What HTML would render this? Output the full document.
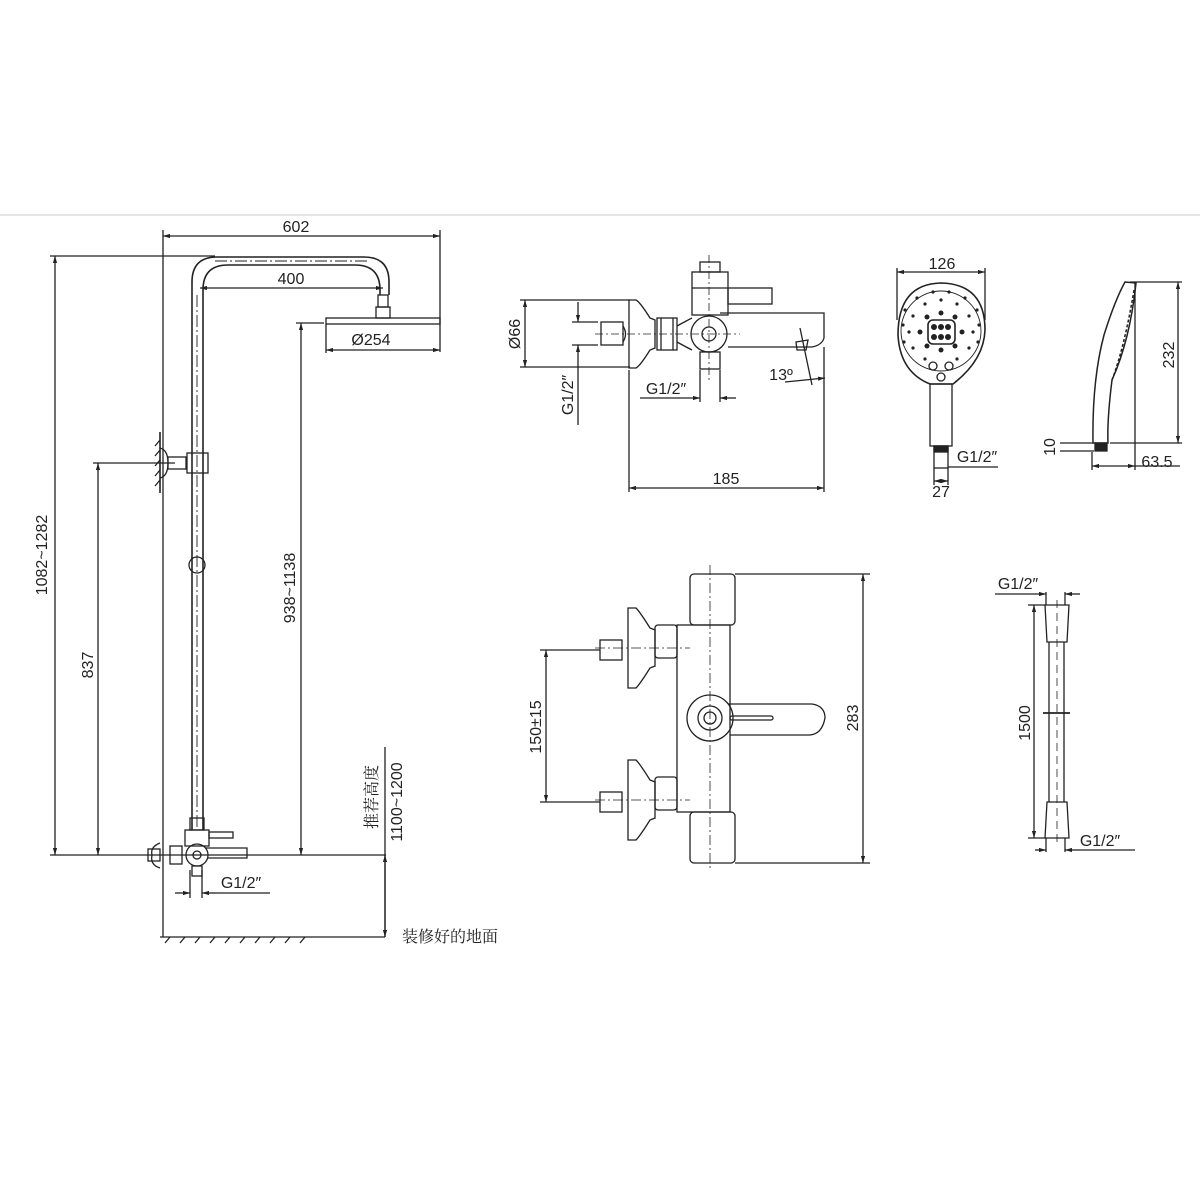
<!DOCTYPE html>
<html><head><meta charset="utf-8"><style>
html,body{margin:0;padding:0;background:#fff;}
svg{display:block;}
text{font-family:"Liberation Sans","Noto Sans CJK SC",sans-serif;font-size:16px;fill:#222;}
.cj{font-family:"Noto Serif CJK SC","Noto Sans CJK SC",serif;}
</style></head><body>
<svg width="1200" height="1200" viewBox="0 0 1200 1200" xmlns="http://www.w3.org/2000/svg">
<defs>
<marker id="a" viewBox="0 0 10 10" refX="10" refY="5" markerWidth="9" markerHeight="7" orient="auto-start-reverse" markerUnits="userSpaceOnUse"><path d="M0,2 L10,5 L0,8 z" fill="#222"/></marker>
</defs>
<line x1="0" y1="215" x2="1200" y2="215" stroke="#e6e6e6" stroke-width="2"/>
<g stroke="#222" stroke-width="1.3" fill="none">
<line x1="163" y1="230" x2="163" y2="937"/>
<line x1="440" y1="230" x2="440" y2="352"/>
<line x1="163" y1="236" x2="440" y2="236" marker-start="url(#a)" marker-end="url(#a)"/>
<path d="M192,830 V282 Q192,257 217,257 H364 Q389,257 389,282 V295" stroke-width="1.6"/>
<path d="M203,830 V290 Q203,265 228,265 H355 Q380,265 380,290 V295" stroke-width="1.6"/>
<line x1="197" y1="295" x2="197" y2="830" stroke-dasharray="12,3,2,3" stroke-width="0.9"/>
<line x1="215" y1="261" x2="370" y2="261" stroke-dasharray="12,3,2,3" stroke-width="0.9"/>
<line x1="200" y1="288" x2="383" y2="288" marker-start="url(#a)" marker-end="url(#a)"/>
<rect x="378" y="295" width="10" height="12"/>
<rect x="376" y="307" width="14" height="11"/>
<rect x="326" y="318" width="114" height="6"/>
<line x1="326" y1="350" x2="440" y2="350" marker-start="url(#a)" marker-end="url(#a)"/>
<line x1="326" y1="324" x2="326" y2="353"/>
<line x1="296" y1="323" x2="324" y2="323"/>
<line x1="301" y1="323" x2="301" y2="855" marker-start="url(#a)" marker-end="url(#a)"/>
<line x1="50" y1="256" x2="215" y2="256"/>
<line x1="55" y1="256" x2="55" y2="855" marker-start="url(#a)" marker-end="url(#a)"/>
<line x1="93" y1="463" x2="175" y2="463"/>
<line x1="98" y1="463" x2="98" y2="855" marker-start="url(#a)" marker-end="url(#a)"/>
<line x1="160" y1="432" x2="160" y2="493" stroke-width="1.6"/>
<path d="M160,440 l-5,6 M160,450 l-5,6 M160,460 l-5,6 M160,470 l-5,6 M160,480 l-5,6"/>
<path d="M160,448 Q168,450 168,463 Q168,476 160,478"/>
<rect x="168" y="457" width="18" height="12"/>
<rect x="187" y="453" width="21" height="20"/>
<circle cx="197" cy="565" r="8"/>
<rect x="190" y="818" width="14" height="12"/>
<rect x="185" y="830" width="24" height="16"/>
<rect x="209" y="832" width="24" height="6"/>
<path d="M160,843 Q150,847 152,855 Q150,865 160,868"/>
<rect x="148" y="849" width="12" height="12"/>
<rect x="170" y="846" width="12" height="18"/>
<circle cx="197" cy="855" r="11"/>
<circle cx="197" cy="855" r="4"/>
<path d="M205,848 H247 V858 H207"/>
<rect x="192" y="866" width="10" height="10"/>
<line x1="50" y1="855" x2="386" y2="855"/>
<line x1="190" y1="870" x2="190" y2="898"/><line x1="202" y1="870" x2="202" y2="898"/>
<line x1="175" y1="893" x2="190" y2="893" marker-end="url(#a)"/>
<line x1="217" y1="893" x2="202" y2="893" marker-end="url(#a)"/>
<line x1="217" y1="893" x2="270" y2="893"/>
<line x1="385" y1="747" x2="385" y2="937"/>
<line x1="385" y1="855" x2="385" y2="937" marker-start="url(#a)" marker-end="url(#a)"/>
<line x1="160" y1="937" x2="385" y2="937"/>
<path d="M165,943 l5,-6 M180,943 l5,-6 M195,943 l5,-6 M210,943 l5,-6 M225,943 l5,-6 M240,943 l5,-6 M255,943 l5,-6 M270,943 l5,-6 M285,943 l5,-6 M300,943 l5,-6"/>

<line x1="520" y1="300" x2="630" y2="300"/><line x1="520" y1="367" x2="630" y2="367"/>
<line x1="525" y1="300" x2="525" y2="367" marker-start="url(#a)" marker-end="url(#a)"/>
<path d="M629,300 L636,300 Q640,302 650,318 L655,320 V348 L650,350 Q640,366 636,368 L629,368 Z"/>
<rect x="601" y="322" width="22" height="23"/>
<path d="M623,326 Q628,334 623,342"/>
<rect x="657" y="318" width="20" height="32"/>
<line x1="661" y1="318" x2="661" y2="350"/><line x1="673" y1="318" x2="673" y2="350"/>
<path d="M677,326 Q688,320 692,318"/><path d="M677,342 Q688,348 692,350"/>
<circle cx="709" cy="334" r="18"/>
<circle cx="709" cy="334" r="7"/>
<path d="M720,313 H824 V338 Q822,345 812,347 L728,347"/>
<path d="M796,342 L808,340 L806,350 L797,350 Z"/>
<rect x="692" y="272" width="36" height="43"/>
<line x1="692" y1="288" x2="728" y2="288"/>
<rect x="700" y="262" width="20" height="10"/>
<rect x="728" y="288" width="44" height="16"/>
<rect x="700" y="352" width="20" height="17"/>
<line x1="709" y1="255" x2="709" y2="380" stroke-dasharray="8,3,2,3" stroke-width="0.8"/>
<line x1="595" y1="334" x2="740" y2="334" stroke-dasharray="8,3,2,3" stroke-width="0.8"/>
<line x1="572" y1="322" x2="598" y2="322"/><line x1="572" y1="345" x2="598" y2="345"/>
<line x1="578" y1="302" x2="578" y2="322" marker-end="url(#a)"/>
<line x1="578" y1="425" x2="578" y2="345" marker-end="url(#a)"/>
<line x1="700" y1="370" x2="700" y2="402"/><line x1="720" y1="370" x2="720" y2="402"/>
<line x1="640" y1="398" x2="700" y2="398" marker-end="url(#a)"/>
<line x1="736" y1="398" x2="720" y2="398" marker-end="url(#a)"/>
<line x1="800" y1="328" x2="812" y2="385"/>
<line x1="785" y1="382" x2="825" y2="378" marker-end="url(#a)"/>
<line x1="629" y1="370" x2="629" y2="492"/>
<line x1="824" y1="347" x2="824" y2="492"/>
<line x1="629" y1="488" x2="824" y2="488" marker-start="url(#a)" marker-end="url(#a)"/>

<line x1="897" y1="268" x2="897" y2="320"/><line x1="985" y1="268" x2="985" y2="320"/>
<line x1="897" y1="272" x2="985" y2="272" marker-start="url(#a)" marker-end="url(#a)"/>
<path d="M930,384 Q900,372 898,335 Q898,284 941,283 Q985,284 985,330 Q984,360 953,384 Z" stroke-width="1.6"/>
<circle cx="941" cy="331" r="40" stroke-width="0.9"/>
<rect x="928" y="320" width="27" height="24" rx="5" stroke-width="1.6"/>
<rect x="930" y="384" width="22" height="62"/>
<rect x="934" y="446" width="14" height="22"/>
<rect x="934" y="446" width="14" height="6" fill="#222"/>
<line x1="948" y1="467" x2="998" y2="467"/>
<line x1="934" y1="468" x2="934" y2="485"/><line x1="948" y1="468" x2="948" y2="485"/>
<line x1="934" y1="481" x2="948" y2="481" marker-start="url(#a)" marker-end="url(#a)"/>
<circle cx="933" cy="366" r="4"/><circle cx="949" cy="366" r="4"/><circle cx="941" cy="377" r="4"/>

<path d="M1125,282 L1136,283 Q1130,340 1112,380 Q1107,420 1108,443 L1093,443 Q1092,380 1104,335 Q1115,300 1125,282 Z" stroke-width="1.5"/>
<path d="M1134,290 Q1125,345 1112,380" stroke-dasharray="3,2" stroke-width="1.5"/>
<rect x="1095" y="443" width="12" height="8" fill="#222"/>
<line x1="1130" y1="282" x2="1182" y2="282"/><line x1="1110" y1="443" x2="1182" y2="443"/>
<line x1="1178" y1="282" x2="1178" y2="443" marker-start="url(#a)" marker-end="url(#a)"/>
<line x1="1060" y1="443" x2="1094" y2="443"/><line x1="1060" y1="451" x2="1094" y2="451"/>
<line x1="1092" y1="452" x2="1092" y2="470"/><line x1="1135" y1="283" x2="1135" y2="470"/>
<line x1="1092" y1="466" x2="1135" y2="466" marker-start="url(#a)" marker-end="url(#a)"/>
<line x1="1135" y1="466" x2="1180" y2="466"/>

<rect x="690" y="574" width="45" height="51" rx="4"/>
<rect x="677" y="625" width="53" height="187"/>
<rect x="690" y="812" width="45" height="51" rx="4"/>
<line x1="710" y1="565" x2="710" y2="870" stroke-dasharray="10,3,2,3" stroke-width="0.8"/>
<g id="inlet">
<path d="M628,608 L636,608 Q640,612 650,628 L655,630 V666 L650,668 Q640,684 636,688 L628,688 Z"/>
<rect x="600" y="640" width="22" height="20"/>
<rect x="655" y="625" width="22" height="33" rx="3"/>
<line x1="595" y1="648" x2="690" y2="648" stroke-dasharray="10,3,2,3" stroke-width="0.8"/>
</g>
<use href="#inlet" transform="translate(0,152)"/>
<circle cx="710" cy="718" r="23"/>
<circle cx="710" cy="718" r="12"/>
<circle cx="710" cy="718" r="6"/>
<path d="M728,704 H812 Q825,706 825,718 Q822,734 810,735 H730"/>
<rect x="730" y="716" width="43" height="4" rx="2"/>
<line x1="540" y1="650" x2="600" y2="650"/><line x1="540" y1="802" x2="600" y2="802"/>
<line x1="546" y1="650" x2="546" y2="802" marker-start="url(#a)" marker-end="url(#a)"/>
<line x1="735" y1="574" x2="870" y2="574"/><line x1="735" y1="863" x2="870" y2="863"/>
<line x1="863" y1="574" x2="863" y2="863" marker-start="url(#a)" marker-end="url(#a)"/>

<path d="M1045,605 H1069 L1067,642 H1047 Z"/>
<path d="M1047,802 H1067 L1069,838 H1045 Z"/>
<line x1="1049" y1="642" x2="1049" y2="802"/><line x1="1064" y1="642" x2="1064" y2="802"/>
<line x1="1043" y1="713" x2="1070" y2="713" stroke-width="1.8"/>
<line x1="1057" y1="600" x2="1057" y2="845" stroke-dasharray="8,5" stroke-width="0.8"/>
<line x1="1046" y1="592" x2="1046" y2="605"/><line x1="1065" y1="592" x2="1065" y2="605"/>
<line x1="995" y1="594" x2="1046" y2="594" marker-end="url(#a)"/>
<line x1="1080" y1="594" x2="1065" y2="594" marker-end="url(#a)"/>
<line x1="1028" y1="605" x2="1045" y2="605"/><line x1="1028" y1="838" x2="1045" y2="838"/>
<line x1="1034" y1="605" x2="1034" y2="838" marker-start="url(#a)" marker-end="url(#a)"/>
<line x1="1046" y1="838" x2="1046" y2="852"/><line x1="1065" y1="838" x2="1065" y2="852"/>
<line x1="1035" y1="850" x2="1046" y2="850" marker-end="url(#a)"/>
<line x1="1080" y1="850" x2="1065" y2="850" marker-end="url(#a)"/>
<line x1="1080" y1="850" x2="1135" y2="850"/>
</g>
<g fill="#222">
<circle cx="934" cy="327" r="3"/><circle cx="941" cy="327" r="3"/><circle cx="948" cy="327" r="3"/>
<circle cx="934" cy="337" r="3"/><circle cx="941" cy="337" r="3"/><circle cx="948" cy="337" r="3"/>
<circle cx="941" cy="313" r="2.5"/><circle cx="941" cy="350" r="2.5"/><circle cx="920" cy="332" r="2.5"/><circle cx="962" cy="332" r="2.5"/>
<circle cx="927" cy="317" r="2.5"/><circle cx="955" cy="317" r="2.5"/><circle cx="927" cy="346" r="2.5"/><circle cx="955" cy="346" r="2.5"/>
<circle cx="941" cy="300" r="1.6"/><circle cx="925" cy="304" r="1.6"/><circle cx="957" cy="304" r="1.6"/><circle cx="913" cy="316" r="1.6"/><circle cx="969" cy="316" r="1.6"/>
<circle cx="909" cy="332" r="1.6"/><circle cx="973" cy="332" r="1.6"/><circle cx="913" cy="348" r="1.6"/><circle cx="969" cy="348" r="1.6"/><circle cx="925" cy="359" r="1.6"/><circle cx="957" cy="359" r="1.6"/>
<circle cx="933" cy="292" r="1.6"/><circle cx="949" cy="292" r="1.6"/><circle cx="917" cy="298" r="1.6"/><circle cx="965" cy="298" r="1.6"/><circle cx="905" cy="310" r="1.6"/><circle cx="977" cy="310" r="1.6"/>
<circle cx="903" cy="325" r="1.6"/><circle cx="979" cy="325" r="1.6"/><circle cx="904" cy="342" r="1.6"/><circle cx="978" cy="342" r="1.6"/>
</g>
<text x="296" y="232" text-anchor="middle">602</text>
<text x="291" y="284" text-anchor="middle">400</text>
<text x="371" y="345" text-anchor="middle">Ø254</text>
<text transform="translate(47,555) rotate(-90)" text-anchor="middle">1082~1282</text>
<text transform="translate(93,665) rotate(-90)" text-anchor="middle">837</text>
<text transform="translate(295,588) rotate(-90)" text-anchor="middle">938~1138</text>
<text x="241" y="888" text-anchor="middle">G1/2″</text>
<text class="cj" transform="translate(377,797) rotate(-90)" text-anchor="middle">推荐高度</text>
<text transform="translate(402,802) rotate(-90)" text-anchor="middle">1100~1200</text>
<text class="cj" x="402" y="942">装修好的地面</text>
<text transform="translate(520,334) rotate(-90)" text-anchor="middle">Ø66</text>
<text transform="translate(573,395) rotate(-90)" text-anchor="middle">G1/2″</text>
<text x="666" y="394" text-anchor="middle">G1/2″</text>
<text x="781" y="380" text-anchor="middle">13º</text>
<text x="726" y="484" text-anchor="middle">185</text>
<text x="942" y="269" text-anchor="middle">126</text>
<text x="977" y="462" text-anchor="middle">G1/2″</text>
<text x="941" y="497" text-anchor="middle">27</text>
<text transform="translate(1174,355) rotate(-90)" text-anchor="middle">232</text>
<text transform="translate(1055,447) rotate(-90)" text-anchor="middle">10</text>
<text x="1157" y="467" text-anchor="middle">63.5</text>
<text transform="translate(541,727) rotate(-90)" text-anchor="middle">150±15</text>
<text transform="translate(858,718) rotate(-90)" text-anchor="middle">283</text>
<text x="1018" y="589" text-anchor="middle">G1/2″</text>
<text x="1100" y="846" text-anchor="middle">G1/2″</text>
<text transform="translate(1030,723) rotate(-90)" text-anchor="middle">1500</text>
</svg>
</body></html>
